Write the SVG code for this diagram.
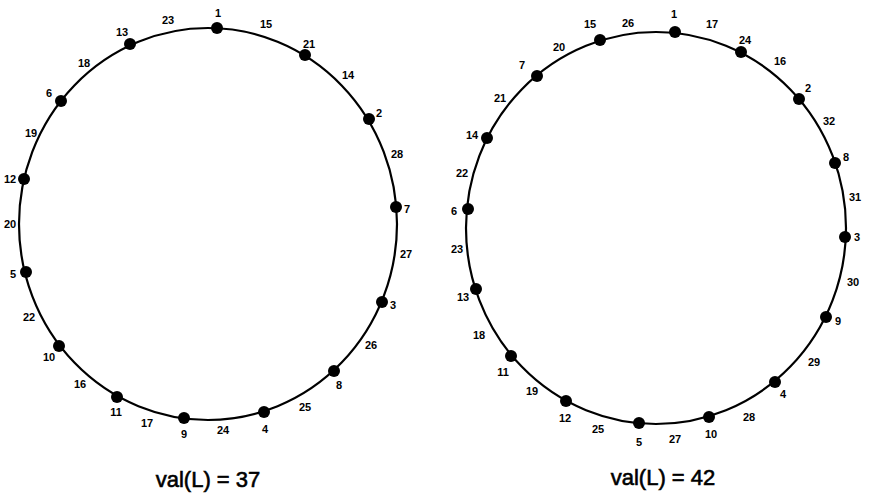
<svg xmlns="http://www.w3.org/2000/svg" width="869" height="494" viewBox="0 0 869 494">
<style>
.ring{fill:none;stroke:#000;stroke-width:2.2}
.dot{fill:#000}
text{font-family:"Liberation Sans",Arial,sans-serif;font-weight:bold;fill:#000}
.n{font-size:11px;text-anchor:middle}
.e{font-size:11px;text-anchor:middle}
.cap{font-size:22px;font-weight:normal;text-anchor:middle;stroke:#000;stroke-width:0.6}
</style>
<rect width="869" height="494" fill="#fff"/>
<g id="connectors">
<ellipse class="ring" cx="208" cy="224" rx="189" ry="196"/>
<ellipse class="ring" cx="656" cy="228" rx="190" ry="196"/>
<g id="edge-labels-left">
<text class="e" x="266" y="28">15</text>
<text class="e" x="348" y="79">14</text>
<text class="e" x="397" y="158">28</text>
<text class="e" x="406" y="258">27</text>
<text class="e" x="371" y="349">26</text>
<text class="e" x="305" y="411">25</text>
<text class="e" x="223" y="434">24</text>
<text class="e" x="147" y="427">17</text>
<text class="e" x="80" y="388">16</text>
<text class="e" x="29" y="321">22</text>
<text class="e" x="10" y="228">20</text>
<text class="e" x="31" y="137">19</text>
<text class="e" x="84" y="67">18</text>
<text class="e" x="168" y="24">23</text>
</g>
<g id="edge-labels-right">
<text class="e" x="712" y="28">17</text>
<text class="e" x="780" y="65">16</text>
<text class="e" x="829" y="125">32</text>
<text class="e" x="855" y="201">31</text>
<text class="e" x="853" y="286">30</text>
<text class="e" x="814" y="366">29</text>
<text class="e" x="749" y="421">28</text>
<text class="e" x="675" y="443">27</text>
<text class="e" x="598" y="433">25</text>
<text class="e" x="532" y="395">19</text>
<text class="e" x="479" y="339">18</text>
<text class="e" x="457" y="253">23</text>
<text class="e" x="462" y="177">22</text>
<text class="e" x="500" y="102">21</text>
<text class="e" x="559" y="51">20</text>
<text class="e" x="628" y="27">26</text>
</g>
</g>
<g id="left-nodes">
<g id="L1"><circle class="dot" cx="217" cy="28" r="6"/><text class="n" x="218" y="17">1</text></g>
<g id="L21"><circle class="dot" cx="305" cy="55" r="6"/><text class="n" x="309" y="48">21</text></g>
<g id="L2"><circle class="dot" cx="369" cy="119" r="6"/><text class="n" x="379" y="117">2</text></g>
<g id="L7"><circle class="dot" cx="396" cy="207" r="6"/><text class="n" x="407" y="213">7</text></g>
<g id="L3"><circle class="dot" cx="382" cy="302" r="6"/><text class="n" x="393" y="309">3</text></g>
<g id="L8"><circle class="dot" cx="334" cy="371" r="6"/><text class="n" x="339" y="389">8</text></g>
<g id="L4"><circle class="dot" cx="264" cy="412" r="6"/><text class="n" x="265" y="433">4</text></g>
<g id="L9"><circle class="dot" cx="184" cy="418" r="6"/><text class="n" x="184" y="438">9</text></g>
<g id="L11"><circle class="dot" cx="117" cy="397" r="6"/><text class="n" x="116" y="416">11</text></g>
<g id="L10"><circle class="dot" cx="59" cy="346" r="6"/><text class="n" x="49" y="361">10</text></g>
<g id="L5"><circle class="dot" cx="26" cy="272" r="6"/><text class="n" x="13" y="278">5</text></g>
<g id="L12"><circle class="dot" cx="24" cy="179" r="6"/><text class="n" x="10" y="183">12</text></g>
<g id="L6"><circle class="dot" cx="61" cy="101" r="6"/><text class="n" x="49" y="97">6</text></g>
<g id="L13"><circle class="dot" cx="130" cy="44" r="6"/><text class="n" x="122" y="36">13</text></g>
</g>
<g id="right-nodes">
<g id="R1"><circle class="dot" cx="675" cy="32" r="6"/><text class="n" x="674" y="18">1</text></g>
<g id="R24"><circle class="dot" cx="741" cy="52" r="6"/><text class="n" x="745" y="44">24</text></g>
<g id="R2"><circle class="dot" cx="799" cy="99" r="6"/><text class="n" x="808" y="92">2</text></g>
<g id="R8"><circle class="dot" cx="835" cy="163" r="6"/><text class="n" x="846" y="161">8</text></g>
<g id="R3"><circle class="dot" cx="845" cy="237" r="6"/><text class="n" x="857" y="241">3</text></g>
<g id="R9"><circle class="dot" cx="826" cy="317" r="6"/><text class="n" x="838" y="325">9</text></g>
<g id="R4"><circle class="dot" cx="775" cy="382" r="6"/><text class="n" x="783" y="398">4</text></g>
<g id="R10"><circle class="dot" cx="709" cy="417" r="6"/><text class="n" x="711" y="438">10</text></g>
<g id="R5"><circle class="dot" cx="639" cy="423" r="6"/><text class="n" x="639" y="446">5</text></g>
<g id="R12"><circle class="dot" cx="566" cy="401" r="6"/><text class="n" x="565" y="422">12</text></g>
<g id="R11"><circle class="dot" cx="511" cy="356" r="6"/><text class="n" x="503" y="376">11</text></g>
<g id="R13"><circle class="dot" cx="476" cy="289" r="6"/><text class="n" x="463" y="301">13</text></g>
<g id="R6"><circle class="dot" cx="468" cy="209" r="6"/><text class="n" x="454" y="215">6</text></g>
<g id="R14"><circle class="dot" cx="487" cy="138" r="6"/><text class="n" x="472" y="139">14</text></g>
<g id="R7"><circle class="dot" cx="537" cy="76" r="6"/><text class="n" x="522" y="69">7</text></g>
<g id="R15"><circle class="dot" cx="600" cy="40" r="6"/><text class="n" x="590" y="28">15</text></g>
</g>
<g id="captions">
<text class="cap" x="208" y="487">val(L) = 37</text>
<text class="cap" x="663" y="485">val(L) = 42</text>
</g>
</svg>
